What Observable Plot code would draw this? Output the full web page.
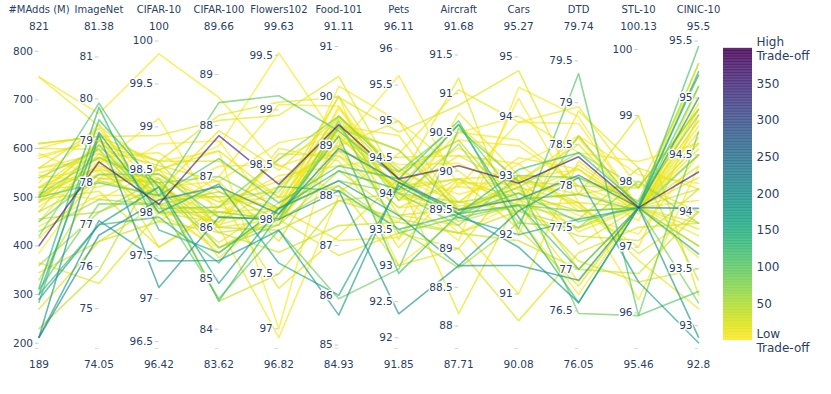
<!DOCTYPE html>
<html>
<head>
<meta charset="utf-8">
<script src="https://cdn.jsdelivr.net/npm/d3@7"></script>
<script src="https://cdn.jsdelivr.net/npm/@observablehq/plot@0.6"></script>
<style>
  body { margin: 0; background: #fff; }
  #wrap { position: relative; width: 831px; height: 394px; }
  #wrap svg { position: absolute; left: 0; top: 0; }
</style>
</head>
<body>
<div id="wrap"></div>
<script>
// ---- data ----
const dims = ["#MAdds (M)", "ImageNet", "CIFAR-10", "CIFAR-100", "Flowers102", "Food-101",
              "Pets", "Aircraft", "Cars", "DTD", "STL-10", "CINIC-10"];
const rangeMin = [189, 74.05, 96.42, 83.62, 96.82, 84.93, 91.85, 87.71, 90.08, 76.05, 95.46, 92.8];
const rangeMax = [821, 81.38, 100, 89.66, 99.63, 91.11, 96.11, 91.68, 95.27, 79.74, 100.13, 95.5];
const tickValues = [
  [200, 300, 400, 500, 600, 700, 800],
  [75, 76, 77, 78, 79, 80, 81],
  [96.5, 97, 97.5, 98, 98.5, 99, 99.5, 100],
  [84, 85, 86, 87, 88, 89],
  [97, 97.5, 98, 98.5, 99, 99.5],
  [85, 86, 87, 88, 89, 90, 91],
  [92, 92.5, 93, 93.5, 94, 94.5, 95, 95.5, 96],
  [88, 88.5, 89, 89.5, 90, 90.5, 91, 91.5],
  [91, 92, 93, 94, 95],
  [76.5, 77, 77.5, 78, 78.5, 79, 79.5],
  [96, 97, 98, 99, 100],
  [93, 93.5, 94, 94.5, 95, 95.5]
];
const colorTicks = [50, 100, 150, 200, 250, 300, 350];
const colorMax = 398;

const tradeoff = [365, 210, 195, 180, 170, 160, 140, 120, 110, 100, 90, 85, 75, 70, 60, 55,
                  12, 6, 15, 20, 3, 8, 5, 11, 14, 2, 22, 18, 28, 35, 9, 4, 1, 20, 30, 25,
                  40, 10, 16, 6, 7, 3, 45, 21, 17, 32, 55, 12, 24, 130,
                  6, 15, 10, 3, 20, 8, 1, 12, 5, 18];
const lines = [
  [400, 78.5, 98.1, 87.8, 98.32, 89.43, 94.2, 90.07, 92.87, 78.35, 97.6, 94.35],
  [212, 76.75, 98.15, 86.8, 98.05, 88.95, 94.15, 89.5, 92.6, 78.13, 97.6, 94.03],
  [212, 79.15, 97.13, 86.2, 98.0, 88.1, 92.33, 88.78, 91.48, 76.87, 97.6, 92.9],
  [212, 77.1, 97.44, 85.35, 97.9, 85.6, 94.15, 89.45, 91.79, 76.6, 97.6, 95.0],
  [290, 77.0, 98.3, 84.9, 98.1, 88.3, 93.69, 88.78, 92.4, 78.1, 96.47, 92.85],
  [300, 79.2, 98.0, 86.85, 97.6, 86.0, 94.1, 89.4, 92.0, 77.6, 97.6, 93.63],
  [313, 79.8, 97.8, 85.5, 98.1, 88.5, 94.05, 90.6, 92.3, 76.6, 97.6, 95.23],
  [284, 79.5, 98.3, 84.55, 98.05, 89.2, 92.89, 89.45, 92.5, 77.0, 97.6, 95.45],
  [500, 79.9, 98.2, 87.35, 98.15, 88.6, 94.2, 90.65, 92.1, 79.35, 95.96, 93.3],
  [500, 78.0, 98.2, 88.45, 99.13, 89.3, 94.2, 89.45, 92.7, 77.57, 97.6, 95.1],
  [310, 77.5, 98.1, 84.6, 97.9, 85.93, 92.95, 90.55, 92.9, 76.47, 95.96, 94.7],
  [450, 78.2, 98.45, 86.2, 98.0, 89.5, 93.45, 89.4, 92.5, 77.7, 97.6, 93.2],
  [420, 78.9, 98.05, 86.4, 98.55, 89.6, 94.3, 90.6, 92.6, 77.9, 97.55, 94.5],
  [505, 78.6, 98.35, 87.0, 98.1, 88.3, 94.0, 89.3, 93.0, 78.1, 97.7, 94.85],
  [360, 77.3, 98.3, 85.6, 97.95, 89.4, 93.9, 90.35, 92.2, 78.6, 97.6, 93.7],
  [540, 78.8, 98.0, 86.3, 98.0, 89.35, 94.6, 89.5, 92.8, 78.4, 97.9, 94.9],
  [747, 79.35, 98.5, 86.0, 98.0, 88.8, 94.1, 89.9, 93.0, 77.8, 97.6, 94.8],
  [747, 79.65, 99.85, 88.55, 98.48, 89.0, 95.63, 89.8, 92.7, 78.2, 97.6, 94.6],
  [610, 79.1, 98.9, 88.1, 98.95, 90.4, 94.15, 91.2, 92.0, 78.9, 98.2, 94.2],
  [610, 79.1, 98.6, 88.2, 99.07, 89.98, 94.85, 90.85, 94.77, 77.9, 99.0, 93.27],
  [585, 79.0, 98.6, 87.5, 97.0, 89.6, 94.0, 89.1, 94.49, 78.83, 97.6, 94.9],
  [560, 78.7, 98.2, 87.2, 98.5, 88.07, 94.55, 91.05, 93.9, 78.95, 97.9, 95.2],
  [540, 78.3, 98.45, 86.5, 98.2, 89.25, 94.1, 90.3, 92.9, 78.57, 97.6, 93.79],
  [520, 78.6, 98.4, 85.4, 98.1, 87.1, 93.39, 89.9, 92.5, 77.8, 96.8, 93.15],
  [510, 78.9, 98.15, 86.6, 97.37, 87.2, 94.2, 88.16, 92.6, 77.5, 97.6, 94.1],
  [500, 79.0, 98.5, 87.6, 99.52, 89.1, 93.0, 89.4, 94.3, 77.8, 96.2, 94.4],
  [500, 78.4, 98.3, 86.2, 98.0, 86.8, 93.45, 89.0, 90.55, 77.2, 97.3, 93.9],
  [495, 77.8, 97.6, 86.3, 98.1, 89.2, 94.0, 90.2, 92.8, 77.0, 97.6, 94.7],
  [490, 78.2, 98.35, 85.9, 97.95, 88.5, 93.7, 89.5, 92.9, 78.0, 97.9, 94.9],
  [470, 78.05, 98.2, 86.6, 98.25, 89.6, 94.2, 89.35, 92.5, 77.6, 98.2, 93.4],
  [440, 77.7, 98.2, 86.0, 96.92, 88.0, 93.6, 90.75, 93.0, 77.75, 97.0, 94.85],
  [415, 78.1, 98.45, 86.4, 98.0, 90.2, 95.0, 90.0, 92.3, 76.7, 97.6, 95.3],
  [385, 78.3, 98.0, 85.6, 98.05, 89.75, 94.2, 89.6, 93.2, 78.6, 97.6, 93.6],
  [365, 75.6, 98.0, 86.1, 98.6, 88.8, 93.8, 89.9, 92.6, 77.9, 97.6, 94.6],
  [345, 76.6, 97.9, 85.9, 97.7, 87.4, 93.6, 89.2, 92.4, 77.4, 97.1, 94.2],
  [270, 76.6, 98.1, 86.3, 98.0, 89.4, 94.0, 89.5, 92.6, 77.1, 96.47, 93.5],
  [230, 75.9, 98.6, 86.0, 97.9, 87.9, 94.0, 89.6, 92.7, 77.7, 97.6, 94.5],
  [580, 79.05, 98.1, 85.5, 98.1, 89.4, 94.8, 89.45, 92.5, 76.85, 97.6, 94.8],
  [600, 78.8, 97.6, 86.4, 98.3, 89.0, 95.0, 89.5, 92.8, 77.8, 96.9, 94.0],
  [530, 79.4, 98.0, 87.0, 99.05, 89.8, 93.9, 89.8, 93.9, 78.75, 97.6, 93.7],
  [550, 78.6, 98.7, 86.7, 98.1, 90.0, 93.35, 90.5, 94.0, 78.4, 98.3, 94.6],
  [480, 78.45, 99.1, 86.2, 98.55, 89.3, 94.3, 89.7, 92.95, 78.2, 97.5, 94.9],
  [455, 77.3, 98.4, 85.6, 98.0, 88.9, 94.3, 90.4, 92.4, 77.5, 97.7, 95.3],
  [520, 77.9, 98.5, 87.5, 98.2, 88.2, 93.0, 89.0, 93.0, 77.3, 97.6, 93.9],
  [505, 78.35, 98.25, 87.9, 98.45, 89.6, 94.35, 89.55, 92.6, 78.1, 97.6, 94.3],
  [330, 78.1, 98.35, 84.55, 97.5, 87.9, 93.65, 89.2, 91.9, 77.0, 96.6, 94.0],
  [430, 77.6, 98.1, 86.7, 98.0, 88.2, 93.5, 88.75, 92.2, 77.5, 98.0, 93.9],
  [560, 78.55, 98.35, 86.05, 98.1, 89.4, 93.7, 89.3, 91.0, 78.3, 97.6, 94.55],
  [490, 78.8, 98.55, 86.9, 97.8, 89.0, 94.05, 89.9, 92.1, 76.8, 97.6, 94.2],
  [300, 77.0, 97.95, 85.3, 98.3, 88.1, 93.5, 89.45, 93.1, 78.4, 97.65, 95.2],
  [600, 79.2, 98.3, 86.9, 98.7, 89.3, 94.25, 90.4, 93.5, 78.0, 97.6, 95.0],
  [520, 78.9, 98.6, 87.3, 98.2, 90.0, 94.1, 90.6, 92.9, 77.9, 97.95, 94.0],
  [545, 78.0, 98.4, 86.5, 98.35, 88.9, 93.8, 89.6, 93.3, 78.2, 97.6, 94.75],
  [500, 78.5, 97.9, 86.8, 97.95, 89.1, 94.4, 90.1, 92.75, 77.65, 97.2, 94.5],
  [470, 79.0, 98.2, 85.7, 98.15, 89.55, 93.95, 89.45, 92.9, 78.5, 97.6, 93.85],
  [520, 78.3, 98.0, 86.4, 98.4, 88.6, 94.5, 90.2, 93.2, 77.7, 97.6, 94.95],
  [590, 78.1, 98.8, 87.7, 98.0, 89.8, 94.2, 89.2, 92.55, 78.6, 98.1, 94.25],
  [450, 78.7, 98.3, 86.0, 98.65, 88.7, 93.25, 89.85, 92.85, 77.45, 97.6, 94.65],
  [510, 77.6, 98.5, 86.6, 98.1, 89.2, 94.0, 90.5, 93.6, 78.0, 97.4, 95.1],
  [560, 79.3, 98.1, 86.1, 98.3, 89.4, 94.6, 89.6, 92.4, 78.25, 97.6, 94.4]
];

// ---- derived tables ----
const norm = (v, j) => (v - rangeMin[j]) / (rangeMax[j] - rangeMin[j]);
const order = d3.range(lines.length).sort((a, b) => tradeoff[a] - tradeoff[b]);
const records = order.flatMap(i => lines[i].map((v, j) => ({id: i, dim: j, value: v, t: tradeoff[i], n: norm(v, j)})));
const ticks = tickValues.flatMap((vals, j) => vals.map(v => ({dim: j, value: v, n: norm(v, j)})));
const axes = dims.map((name, j) => ({dim: j, name, lo: String(rangeMin[j]), hi: String(rangeMax[j])}));

const textColor = "#2a3f5f";
const colorScale = {type: "linear", scheme: "viridis", reverse: true, domain: [0, colorMax]};

const main = Plot.plot({
  width: 831, height: 394,
  marginLeft: 38.5, marginRight: 133, marginTop: 40.5, marginBottom: 46,
  style: {fontFamily: "DejaVu Sans, sans-serif", fontSize: "10px", background: "transparent"},
  x: {domain: [0, 11], axis: null},
  y: {domain: [0, 1], axis: null},
  color: colorScale,
  marks: [
    Plot.line(records, {x: "dim", y: "n", z: "id", stroke: "t", strokeWidth: 1.6, strokeOpacity: 0.66}),
    Plot.ruleY(ticks, {y: "n", x1: d => d.dim - 0.06, x2: "dim", stroke: "#c9c9c9", strokeWidth: 1}),
    Plot.ruleY(axes, {y: 0, x1: d => d.dim - 0.06, x2: "dim", stroke: "#dcdcdc", strokeWidth: 1}),
    Plot.text(ticks, {x: "dim", y: "n", text: d => String(d.value), textAnchor: "end", dx: -6,
                      fill: textColor, stroke: "white", strokeWidth: 3, fontSize: 10.5}),
    Plot.text(axes, {x: "dim", y: 1, text: "name", dy: -31.5, fill: textColor, fontSize: 10}),
    Plot.text(axes, {x: "dim", y: 1, text: "hi", dy: -14.5, fill: textColor, fontSize: 10.5}),
    Plot.text(axes, {x: "dim", y: 0, text: "lo", dy: 16, fill: textColor, fontSize: 10.5})
  ]
});

const steps = d3.range(0, colorMax, 1);
const bar = Plot.plot({
  width: 831, height: 394,
  style: {fontFamily: "DejaVu Sans, sans-serif", fontSize: "12px", background: "transparent"},
  x: {domain: [0, 1], range: [723, 752], axis: null},
  y: {domain: [0, colorMax], range: [340, 48], axis: null},
  color: colorScale,
  marks: [
    Plot.rect(steps, {x1: 0, x2: 1, y1: d => d, y2: d => d + 1.2, fill: d => d + 0.5}),
    Plot.text(colorTicks, {x: 1, y: d => d, text: d => String(d), dx: 4, textAnchor: "start", fill: textColor, fontSize: 12}),
    Plot.text(["High\nTrade-off"], {x: 1, y: colorMax, text: d => d, dx: 4, textAnchor: "start", fill: textColor, fontSize: 12, lineHeight: 1.15}),
    Plot.text(["Low\nTrade-off"], {x: 1, y: 0, text: d => d, dx: 4, textAnchor: "start", fill: textColor, fontSize: 12, lineHeight: 1.15})
  ]
});

const wrap = document.getElementById("wrap");
wrap.appendChild(main);
wrap.appendChild(bar);
</script>
</body>
</html>
